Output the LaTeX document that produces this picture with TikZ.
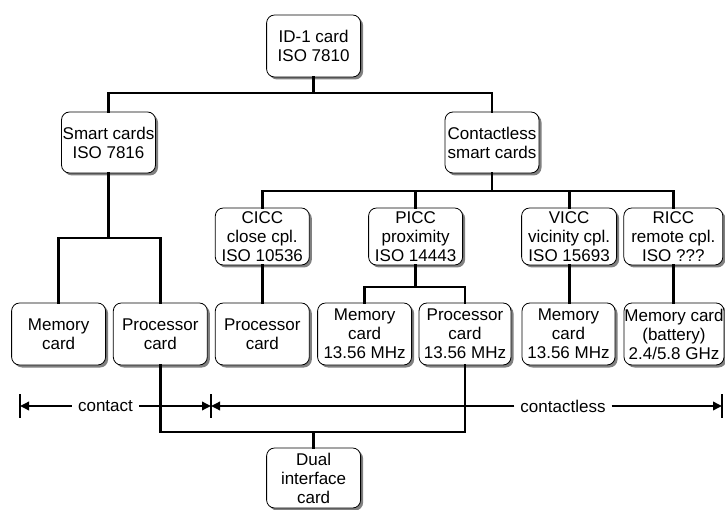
\documentclass[tikz,border=0pt]{standalone}
\usepackage{fontspec}
\setmainfont{Liberation Sans}
\usetikzlibrary{shadows,arrows.meta}
\begin{document}
\begin{tikzpicture}[x=1pt,y=-1pt,
  box/.style={draw=black, line width=0.8pt, rounded corners=8pt, fill=white,
    minimum width=94pt, minimum height=60pt, inner sep=0pt, align=center,
    font=\fontsize{17}{19}\selectfont,
    drop shadow={shadow xshift=2.5pt, shadow yshift=-2.5pt, fill=black!50, opacity=1}},
  conn/.style={line width=2.8pt, line cap=rect},
  meas/.style={line width=1.8pt, -{Triangle[length=9pt,width=8.5pt]}},
  barline/.style={line width=2.3pt},
  lbl/.style={font=\fontsize{17}{19}\selectfont, inner xsep=6pt, inner ysep=0pt}]
\useasboundingbox (0,0) rectangle (725,510);
% nodes
\node[box, minimum height=62pt] (id) at (313.6,46) {ID-1 card\\ISO 7810};
\node[box, minimum height=61pt] (smart) at (108.5,142.5) {Smart cards\\ISO 7816};
\node[box, minimum height=61pt] (cless) at (492,142.5) {Contactless\\smart cards};
\node[box, minimum height=57pt] (cicc) at (262.3,236.5) {CICC\\close cpl.\\ISO 10536};
\node[box, minimum height=57pt] (picc) at (415.6,236.5) {PICC\\proximity\\ISO 14443};
\node[box, minimum height=57pt, minimum width=95pt] (vicc) at (569.1,236.5) {VICC\\vicinity cpl.\\ISO 15693};
\node[box, minimum height=57pt, minimum width=99pt] (ricc) at (673.3,236.5) {RICC\\remote cpl.\\ISO ???};
\node[box, minimum height=62pt] (mem1) at (58.6,334) {Memory\\card};
\node[box, minimum height=62pt] (proc1) at (160.3,334) {Processor\\card};
\node[box, minimum height=62pt] (proc2) at (262.3,334) {Processor\\card};
\node[box, minimum height=62pt] (mem2) at (364.6,334) {Memory\\card\\13.56 MHz};
\node[box, minimum height=62pt, minimum width=92pt] (proc3) at (465,334) {Processor\\card\\13.56 MHz};
\node[box, minimum height=62pt, minimum width=93pt] (mem3) at (568.5,334) {Memory\\card\\13.56 MHz};
\node[box, minimum height=62pt, minimum width=100pt] (mem4) at (674,334) {Memory card\\(battery)\\2.4/5.8 GHz};
\node[box, minimum height=60pt] (dual) at (313.6,478) {Dual\\interface\\card};
% junction levels
\coordinate (y1) at (0,93);
\coordinate (y2) at (0,238);
\coordinate (y3) at (0,191);
\coordinate (y4) at (0,287);
\coordinate (y5) at (0,432);
% tree connectors
\draw[conn] (id.south) -- (id.south |- y1);
\draw[conn] (smart.north) -- (smart.north |- y1) -- (cless.north |- y1) -- (cless.north);
\draw[conn] (smart.south) -- (smart.south |- y2);
\draw[conn] (mem1.north) -- (mem1.north |- y2) -- (proc1.north |- y2) -- (proc1.north);
\draw[conn] (cless.south) -- (cless.south |- y3);
\draw[conn] (cicc.north) -- (cicc.north |- y3) -- (ricc.north |- y3) -- (ricc.north);
\draw[conn] (picc.north) -- (picc.north |- y3);
\draw[conn] (vicc.north) -- (vicc.north |- y3);
\draw[conn] (cicc.south) -- (cicc.south |- proc2.north);
\draw[conn] (vicc.south) -- (vicc.south |- mem3.north);
\draw[conn] (ricc.south) -- (ricc.south |- mem4.north);
\draw[conn] (picc.south) -- (picc.south |- y4);
\draw[conn] (mem2.north) -- (mem2.north |- y4) -- (proc3.north |- y4) -- (proc3.north);
% contact / contactless measure
\coordinate (bl) at (20,406);
\coordinate (bm) at (211,406);
\coordinate (br) at (722,406);
\node[lbl] (contact) at (105.5,406) {contact};
\node[lbl] (contactless) at (563,406) {contactless};
\draw[barline] (bl) ++(0,-12) -- ++(0,24);
\draw[barline] (bm) ++(0,-12) -- ++(0,24);
\draw[barline] (br) ++(0,-12) -- ++(0,24);
\draw[meas] (contact.west) -- (bl);
\draw[meas] (contact.east) -- (bm);
\draw[meas] (contactless.west) -- (bm);
\draw[meas] (contactless.east) -- (br);
% dual interface
\draw[conn] (proc1.south) -- (proc1.south |- y5) -- (proc3.south |- y5) -- (proc3.south);
\draw[conn] (dual.north) -- (dual.north |- y5);
\end{tikzpicture}
\end{document}
